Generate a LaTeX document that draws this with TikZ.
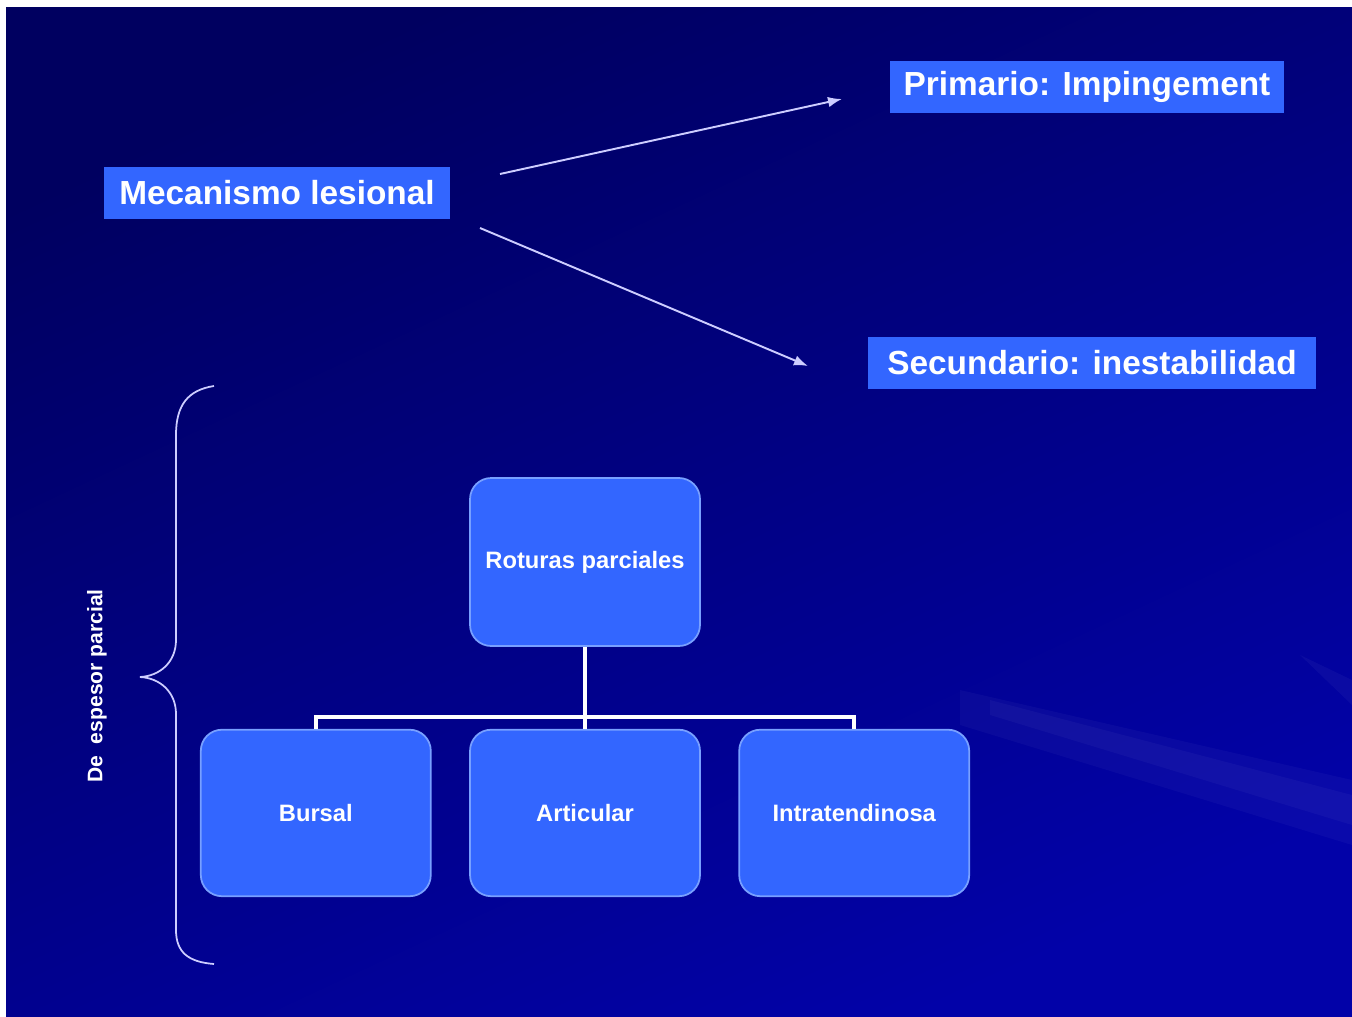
\documentclass[tikz,border=0pt]{standalone}
\usepackage{fontspec}
\setmainfont{Liberation Sans}
\usetikzlibrary{arrows.meta,positioning}
\definecolor{bgtop}{RGB}{0,0,96}
\definecolor{bgbot}{RGB}{2,2,168}
\definecolor{boxblue}{RGB}{51,102,255}
\definecolor{boxedge}{RGB}{120,160,255}
\definecolor{linelav}{RGB}{205,205,255}

\begin{document}
\begin{tikzpicture}[
  x=0.02cm, y=-0.02cm,
  lbl/.style={fill=boxblue, text=white, inner sep=0pt, minimum height=1.04cm,
              font=\fontsize{19}{22}\selectfont\bfseries},
  rbox/.style={draw=boxedge, fill=boxblue, line width=1pt, rounded corners=12pt,
               minimum width=4.6cm, minimum height=3.33cm, text=white,
               font=\fontsize{13.5}{16}\selectfont\bfseries},
  arr/.style={-{Latex[length=2.8mm,width=2.1mm]}, draw=linelav, line width=1.1pt},
  tree/.style={draw=white, line width=2.2pt},
  brace/.style={draw=linelav, line width=1pt},
  node distance=1.64cm and 0.75cm
]
\useasboundingbox (0,0) rectangle (1352,1017);
\shade[top color=bgtop, bottom color=bgbot, shading angle=25] (6,8) rectangle (1352,1017);
% soft streaks
\fill[white, opacity=0.035] (960,690) -- (1352,780) -- (1352,845) -- (960,725) -- cycle;
\fill[white, opacity=0.035] (990,700) -- (1352,795) -- (1352,825) -- (990,715) -- cycle;
\fill[white, opacity=0.04] (1300,655) -- (1352,680) -- (1352,705) -- cycle;

\node[lbl, minimum width=6.92cm] (mec) at (277,193) {Mecanismo lesional};
\node[lbl, minimum width=7.9cm] (prim) at (1087,87) {Primario: Impingement};
\node[lbl, minimum width=8.96cm] (sec) at (1092,363) {Secundario: inestabilidad};

\coordinate (mecA) at (500,174);
\coordinate (primA) at (842,99);
\coordinate (mecB) at (480,228);
\coordinate (secA) at (808,366);
\draw[arr] (mecA) -- (primA);
\draw[arr] (mecB) -- (secA);

\node[rbox, minimum height=3.36cm] (rot) at (585,562) {Roturas parciales};
\node[rbox, below=of rot] (art) {Articular};
\node[rbox, left=of art] (burs) {Bursal};
\node[rbox, right=of art] (intra) {Intratendinosa};

\coordinate (bar) at (585,717);
\draw[tree] (rot.south) -- (bar);
\draw[tree] (burs.north) |- (bar) -| (intra.north);
\draw[tree] (bar) -- (art.north);

\draw[brace] (214,386) .. controls (188,390) and (176,405) .. (176,435)
  -- (176,640) .. controls (176,662) and (160,676) .. (140,677)
  .. controls (160,678) and (176,692) .. (176,714)
  -- (176,930) .. controls (176,952) and (188,962) .. (214,964);
\node[rotate=90, text=white, font=\fontsize{12}{14}\selectfont\bfseries] (side) at (97,686) {De~~espesor parcial};
\end{tikzpicture}
\end{document}
